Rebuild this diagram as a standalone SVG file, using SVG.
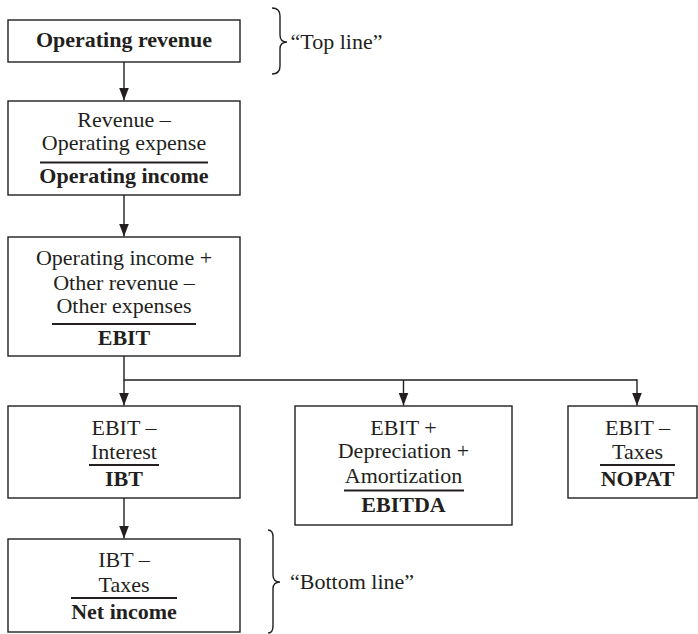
<svg xmlns="http://www.w3.org/2000/svg" width="698" height="634" viewBox="0 0 698 634">
<defs>
<marker id="ah" markerWidth="13" markerHeight="10" refX="13" refY="5" orient="auto" markerUnits="userSpaceOnUse" viewBox="0 0 13 10">
<path d="M0,0 L13,5 L0,10 Z" fill="#231f20"/>
</marker>
<style>
.box{fill:#fff;stroke:#231f20;stroke-width:1.4}
.t{font-family:"Liberation Serif","Times New Roman",serif;font-size:22px;fill:#231f20;text-anchor:middle}
.b{font-weight:bold}
.ul{stroke:#231f20;stroke-width:2}
.c{fill:none;stroke:#231f20;stroke-width:1.4}
.lab{font-family:"Liberation Serif","Times New Roman",serif;font-size:22px;fill:#231f20}
</style>
</defs>
<rect width="698" height="634" fill="#fff"/>
<g id="connectors">
<line class="c" x1="124" y1="62" x2="124" y2="100.5" marker-end="url(#ah)"/>
<line class="c" x1="124" y1="195" x2="124" y2="236.5" marker-end="url(#ah)"/>
<polyline class="c" points="124,356 124,380 637,380"/>
<line class="c" x1="124" y1="380" x2="124" y2="405.5" marker-end="url(#ah)"/>
<line class="c" x1="403.5" y1="380" x2="403.5" y2="405.5" marker-end="url(#ah)"/>
<line class="c" x1="637" y1="379.3" x2="637" y2="405.5" marker-end="url(#ah)"/>
<line class="c" x1="124" y1="498" x2="124" y2="538.5" marker-end="url(#ah)"/>
</g>
<g id="operating-revenue">
<rect class="box" x="8" y="20" width="232" height="42"/>
<text class="t b" x="124" y="47">Operating revenue</text>
</g>
<g id="operating-income">
<rect class="box" x="8" y="101" width="232" height="94"/>
<text class="t" x="124" y="127">Revenue –</text>
<text class="t" x="124" y="150">Operating expense</text>
<line class="ul" x1="40" y1="162.5" x2="208" y2="162.5"/>
<text class="t b" x="124" y="182.5">Operating income</text>
</g>
<g id="ebit">
<rect class="box" x="8" y="237" width="232" height="119"/>
<text class="t" x="124" y="265">Operating income +</text>
<text class="t" x="124" y="289.5">Other revenue –</text>
<text class="t" x="124" y="313">Other expenses</text>
<line class="ul" x1="52" y1="324" x2="196" y2="324"/>
<text class="t b" x="124" y="345">EBIT</text>
</g>
<g id="ibt">
<rect class="box" x="8" y="406" width="232" height="92"/>
<text class="t" x="124" y="435">EBIT –</text>
<text class="t" x="124" y="459">Interest</text>
<line class="ul" x1="89" y1="465" x2="159" y2="465"/>
<text class="t b" x="124" y="486">IBT</text>
</g>
<g id="ebitda">
<rect class="box" x="295" y="406" width="217" height="119"/>
<text class="t" x="403.5" y="435">EBIT +</text>
<text class="t" x="403.5" y="457.5">Depreciation +</text>
<text class="t" x="403.5" y="482.5">Amortization</text>
<line class="ul" x1="344" y1="490.5" x2="464" y2="490.5"/>
<text class="t b" x="403.5" y="511.5">EBITDA</text>
</g>
<g id="nopat">
<rect class="box" x="568" y="406" width="129" height="92"/>
<text class="t" x="637.5" y="435">EBIT –</text>
<text class="t" x="637.5" y="458.5">Taxes</text>
<line class="ul" x1="600" y1="465" x2="675" y2="465"/>
<text class="t b" x="637.5" y="485.5">NOPAT</text>
</g>
<g id="net-income">
<rect class="box" x="8" y="539" width="232" height="93"/>
<text class="t" x="124" y="566.5">IBT –</text>
<text class="t" x="124" y="592">Taxes</text>
<line class="ul" x1="71" y1="598" x2="177" y2="598"/>
<text class="t b" x="124" y="619">Net income</text>
</g>
<g id="top-line">
<path class="c" d="M272,8 Q280,8 280,16 L280,35 Q280,42 287,42 Q280,42 280,49 L280,66 Q280,74 272,74"/>
<text class="lab" x="290.5" y="49">“Top line”</text>
</g>
<g id="bottom-line">
<path class="c" d="M268,530 Q273,530 273,537 L273,575 Q273,582 280,582 Q273,582 273,589 L273,626 Q273,633 268,633"/>
<text class="lab" x="290" y="589">“Bottom line”</text>
</g>
</svg>
